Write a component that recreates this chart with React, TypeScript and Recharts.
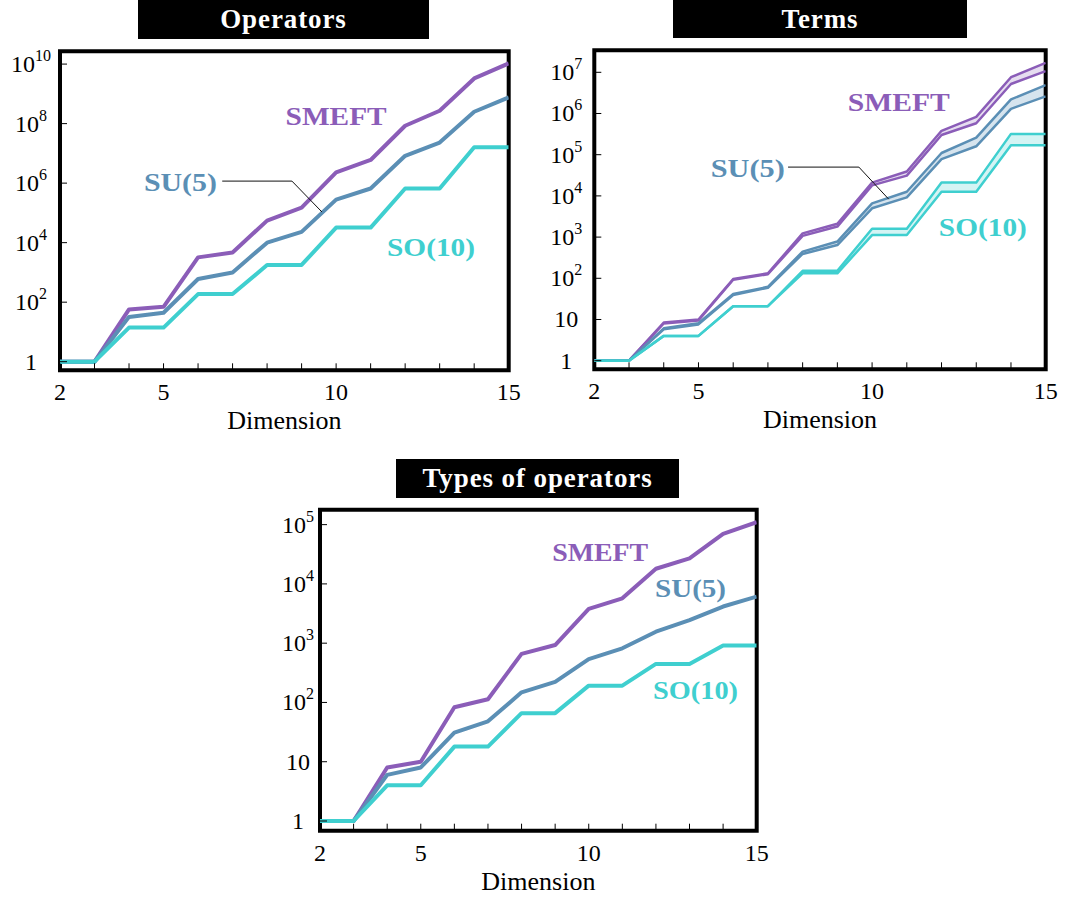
import React from 'react';
import {
  ComposedChart,
  Line,
  Area,
  XAxis,
  YAxis,
  ReferenceArea,
  ReferenceDot,
  ReferenceLine,
} from 'recharts';

// ---------- data ----------
const dims = [2, 3, 4, 5, 6, 7, 8, 9, 10, 11, 12, 13, 14, 15];
const xLabelTicks = [2, 5, 10, 15];

// Operators
const opSMEFT = [1, 1, 57, 70, 3200, 4700, 55000, 1.5e5, 2.3e6, 6.0e6, 8.5e7, 2.7e8, 3.3e9, 1.05e10];
const opSU5 = [1, 1, 32, 44, 600, 1000, 1.0e4, 2.3e4, 2.8e5, 6.6e5, 8.3e6, 2.3e7, 2.5e8, 7.6e8];
const opSO10 = [1, 1, 14, 14, 187, 187, 1780, 1780, 3.2e4, 3.2e4, 6.6e5, 6.6e5, 1.6e7, 1.6e7];

// Terms (upper / lower estimates)
const tmSMEFTHi = [1, 1, 8.4, 10, 96, 132, 1230, 2100, 2.1e4, 3.9e4, 3.8e5, 8.3e5, 7.6e6, 1.7e7];
const tmSMEFTLo = [1, 1, 8.0, 9.5, 92, 126, 1070, 1800, 1.8e4, 3.1e4, 3.0e5, 5.8e5, 5.2e6, 1.07e7];
const tmSU5Hi = [1, 1, 6.1, 8.1, 41.5, 62, 445, 780, 6600, 1.26e4, 1.1e5, 2.6e5, 2.2e6, 4.9e6];
const tmSU5Lo = [1, 1, 5.8, 7.6, 39, 59, 390, 640, 5000, 9200, 7.8e4, 1.6e5, 1.3e6, 2.6e6];
const tmSO10Hi = [1, 1, 4, 4, 21, 21, 152, 152, 1600, 1600, 2.1e4, 2.1e4, 3.2e5, 3.2e5];
const tmSO10Lo = [1, 1, 4, 4, 21, 21, 132, 132, 1120, 1120, 1.26e4, 1.26e4, 1.7e5, 1.7e5];

// Types of operators
const tySMEFT = [1, 1, 8, 10, 83, 113, 660, 930, 3800, 5700, 1.8e4, 2.7e4, 7.0e4, 1.1e5];
const tySU5 = [1, 1, 6, 8, 31, 48, 148, 223, 540, 820, 1560, 2450, 4150, 6100];
const tySO10 = [1, 1, 4, 4, 18, 18, 66, 66, 192, 192, 447, 447, 910, 910];

const opYTicks = [1, 1e2, 1e4, 1e6, 1e8, 1e10];
const tmYTicks = [1, 10, 1e2, 1e3, 1e4, 1e5, 1e6, 1e7];
const tyYTicks = [1, 10, 1e2, 1e3, 1e4, 1e5];

// ---------- styles ----------
const C_SMEFT = '#8b5db8';
const C_SU5 = '#5b8fb5';
const C_SO10 = '#3fcfcf';
const F_SMEFT = '#e6ddf0';
const F_SU5 = '#d6e4ee';
const F_SO10 = '#d4f4f4';
const FONT = "'Liberation Serif', 'Times New Roman', serif";

const opData = dims.map((d, i) => ({ d, smeft: opSMEFT[i], su5: opSU5[i], so10: opSO10[i] }));
const tmData = dims.map((d, i) => ({
  d,
  smeftHi: tmSMEFTHi[i],
  smeftLo: tmSMEFTLo[i],
  su5Hi: tmSU5Hi[i],
  su5Lo: tmSU5Lo[i],
  so10Hi: tmSO10Hi[i],
  so10Lo: tmSO10Lo[i],
  smeftBand: [tmSMEFTLo[i], tmSMEFTHi[i]],
  su5Band: [tmSU5Lo[i], tmSU5Hi[i]],
  so10Band: [tmSO10Lo[i], tmSO10Hi[i]],
}));
const tyData = dims.map((d, i) => ({ d, smeft: tySMEFT[i], su5: tySU5[i], so10: tySO10[i] }));

// ---------- ticks & labels ----------
const XTick = (props: any) => {
  const { x, y, payload } = props;
  const v = payload.value;
  return (
    <g>
      <line x1={x} x2={x} y1={y} y2={y - 7} stroke="#000" strokeWidth={1} />
      {xLabelTicks.includes(v) && (
        <text x={x} y={y + 30} textAnchor="middle" fontFamily={FONT} fontSize={24} fill="#000">
          {v}
        </text>
      )}
    </g>
  );
};

const YTick = (props: any) => {
  const { x, y, payload, off } = props;
  const v = payload.value;
  const n = Math.round(Math.log10(v));
  return (
    <g>
      <line x1={x} x2={x + 7} y1={y} y2={y} stroke="#000" strokeWidth={1} />
      <text x={x + off} y={y + 8} textAnchor="middle" fontFamily={FONT} fontSize={24} fill="#000">
        {n < 2 ? String(v) : '10'}
        {n >= 2 && (
          <tspan dy={-11} fontSize={16}>
            {n}
          </tspan>
        )}
      </text>
    </g>
  );
};

const DimLabel = (props: any) => {
  const { viewBox } = props;
  return (
    <text
      x={viewBox.x + viewBox.width / 2}
      y={viewBox.y + 59}
      textAnchor="middle"
      fontFamily={FONT}
      fontSize={26}
      fill="#000"
    >
      Dimension
    </text>
  );
};

const SeriesLabel = (props: any) => {
  const { viewBox, text, color, len, size } = props;
  const cx = viewBox.x + viewBox.width / 2;
  const cy = viewBox.y + viewBox.height / 2;
  return (
    <text
      x={cx}
      y={cy + 9}
      textAnchor="middle"
      fill={color}
      fontFamily={FONT}
      fontWeight="bold"
      fontSize={size}
      textLength={len}
      lengthAdjust="spacingAndGlyphs"
    >
      {text}
    </text>
  );
};

// ---------- panel ----------
type Box = { left: number; top: number; w: number; h: number };
type Rect = { x0: number; y0: number; x1: number; y1: number };
type LineSpec = { key: string; color: string; width: number };
type BandSpec = { key: string; fill: string };
type LabelSpec = { x: number; y: number; text: string; color: string; len: number; size: number };
type Pt = { x: number; y: number };

const X_AXIS_H = 70;

function Panel(props: {
  box: Box;
  plot: Rect;
  data: any[];
  yDomain: [number, number];
  yTicks: number[];
  yOff: number;
  bands?: BandSpec[];
  lines: LineSpec[];
  labels: LabelSpec[];
  leader?: Pt[];
}) {
  const { box, plot, data, yDomain, yTicks, yOff, bands = [], lines, labels, leader } = props;
  const margin = {
    top: plot.y0 - box.top,
    right: box.left + box.w - plot.x1,
    bottom: box.top + box.h - plot.y1 - X_AXIS_H,
    left: 0,
  };
  return (
    <div style={{ position: 'absolute', left: box.left, top: box.top, width: box.w, height: box.h }}>
      <ComposedChart width={box.w} height={box.h} data={data} margin={margin}>
        <XAxis
          dataKey="d"
          type="number"
          domain={[2, 15]}
          ticks={dims}
          allowDataOverflow
          axisLine={false}
          tickLine={false}
          tickSize={0}
          tickMargin={0}
          height={X_AXIS_H}
          interval={0}
          tick={<XTick />}
          label={<DimLabel />}
        />
        <YAxis
          type="number"
          scale="log"
          domain={yDomain}
          ticks={yTicks}
          allowDataOverflow
          axisLine={false}
          tickLine={false}
          tickSize={0}
          tickMargin={0}
          width={plot.x0 - box.left}
          interval={0}
          tick={<YTick off={yOff} />}
        />
        {bands.map((b) => (
          <Area
            key={b.key}
            dataKey={b.key}
            type="linear"
            stroke="none"
            fill={b.fill}
            fillOpacity={1}
            isAnimationActive={false}
            dot={false}
            activeDot={false}
          />
        ))}
        {lines.map((l) => (
          <Line
            key={l.key}
            dataKey={l.key}
            type="linear"
            stroke={l.color}
            strokeWidth={l.width}
            dot={false}
            activeDot={false}
            isAnimationActive={false}
            strokeLinejoin="round"
          />
        ))}
        {leader &&
          leader.slice(1).map((p, i) => (
            <ReferenceLine
              key={'ld' + i}
              segment={[leader[i], p]}
              stroke="#111"
              strokeWidth={1}
              ifOverflow="visible"
            />
          ))}
        {labels.map((lb) => (
          <ReferenceDot
            key={lb.text}
            x={lb.x}
            y={lb.y}
            r={1}
            fill="none"
            stroke="none"
            ifOverflow="visible"
            label={<SeriesLabel text={lb.text} color={lb.color} len={lb.len} size={lb.size} />}
          />
        ))}
        <ReferenceArea
          x1={2}
          x2={15}
          y1={yDomain[0]}
          y2={yDomain[1]}
          fill="none"
          stroke="#000"
          strokeWidth={4}
          ifOverflow="visible"
        />
      </ComposedChart>
    </div>
  );
}

const Title = ({ text, left, top, w, h }: { text: string; left: number; top: number; w: number; h: number }) => (
  <div
    style={{
      position: 'absolute',
      left,
      top,
      width: w,
      height: h,
      background: '#000',
      color: '#fff',
      fontFamily: FONT,
      fontWeight: 'bold',
      fontSize: 27,
      letterSpacing: 0.9,
      lineHeight: h + 'px',
      textAlign: 'center',
    }}
  >
    {text}
  </div>
);

export default function App() {
  return (
    <div style={{ position: 'absolute', left: 0, top: 0, width: 1081, height: 898, background: '#fff' }}>
      <Title text="Operators" left={138} top={0} w={291} h={39} />
      <Title text="Terms" left={673} top={0} w={294} h={38} />
      <Title text="Types of operators" left={396} top={459} w={283} h={39} />

      <Panel
        box={{ left: 0, top: 0, w: 540, h: 445 }}
        plot={{ x0: 60, y0: 51.3, x1: 508.7, y1: 370.3 }}
        data={opData}
        yDomain={[0.514, 2.69e10]}
        yTicks={opYTicks}
        yOff={-29}
        lines={[
          { key: 'smeft', color: C_SMEFT, width: 4 },
          { key: 'su5', color: C_SU5, width: 4 },
          { key: 'so10', color: C_SO10, width: 4 },
        ]}
        labels={[
          { x: 10.0, y: 1.8e8, text: 'SMEFT', color: C_SMEFT, len: 101, size: 26 },
          { x: 5.49, y: 1.1e6, text: 'SU(5)', color: C_SU5, len: 73, size: 26 },
          { x: 12.75, y: 7.1e3, text: 'SO(10)', color: C_SO10, len: 88, size: 26 },
        ]}
        leader={[
          { x: 6.7, y: 1.17e6 },
          { x: 8.72, y: 1.17e6 },
          { x: 9.59, y: 1.07e5 },
        ]}
      />

      <Panel
        box={{ left: 540, top: 0, w: 541, h: 445 }}
        plot={{ x0: 594.3, y0: 50.3, x1: 1045.7, y1: 369.3 }}
        data={tmData}
        yDomain={[0.618, 3.42e7]}
        yTicks={tmYTicks}
        yOff={-28}
        bands={[
          { key: 'smeftBand', fill: F_SMEFT },
          { key: 'su5Band', fill: F_SU5 },
          { key: 'so10Band', fill: F_SO10 },
        ]}
        lines={[
          { key: 'smeftHi', color: C_SMEFT, width: 2.5 },
          { key: 'smeftLo', color: C_SMEFT, width: 2.5 },
          { key: 'su5Hi', color: C_SU5, width: 2.5 },
          { key: 'su5Lo', color: C_SU5, width: 2.5 },
          { key: 'so10Hi', color: C_SO10, width: 2.5 },
          { key: 'so10Lo', color: C_SO10, width: 2.5 },
        ]}
        labels={[
          { x: 10.77, y: 1.9e6, text: 'SMEFT', color: C_SMEFT, len: 102, size: 26 },
          { x: 6.42, y: 4.8e4, text: 'SU(5)', color: C_SU5, len: 74, size: 26 },
          { x: 13.19, y: 1.76e3, text: 'SO(10)', color: C_SO10, len: 88, size: 26 },
        ]}
        leader={[
          { x: 7.58, y: 5.0e4 },
          { x: 9.62, y: 5.0e4 },
          { x: 10.48, y: 8.3e3 },
        ]}
      />

      <Panel
        box={{ left: 250, top: 455, w: 560, h: 443 }}
        plot={{ x0: 320, y0: 509.7, x1: 756.7, y1: 830.7 }}
        data={tyData}
        yDomain={[0.686, 1.786e5]}
        yTicks={tyYTicks}
        yOff={-22}
        lines={[
          { key: 'smeft', color: C_SMEFT, width: 4 },
          { key: 'su5', color: C_SU5, width: 4 },
          { key: 'so10', color: C_SO10, width: 4 },
        ]}
        labels={[
          { x: 10.34, y: 3.5e4, text: 'SMEFT', color: C_SMEFT, len: 96, size: 25 },
          { x: 13.03, y: 8.5e3, text: 'SU(5)', color: C_SU5, len: 71, size: 25 },
          { x: 13.18, y: 162, text: 'SO(10)', color: C_SO10, len: 85, size: 25 },
        ]}
      />
    </div>
  );
}
